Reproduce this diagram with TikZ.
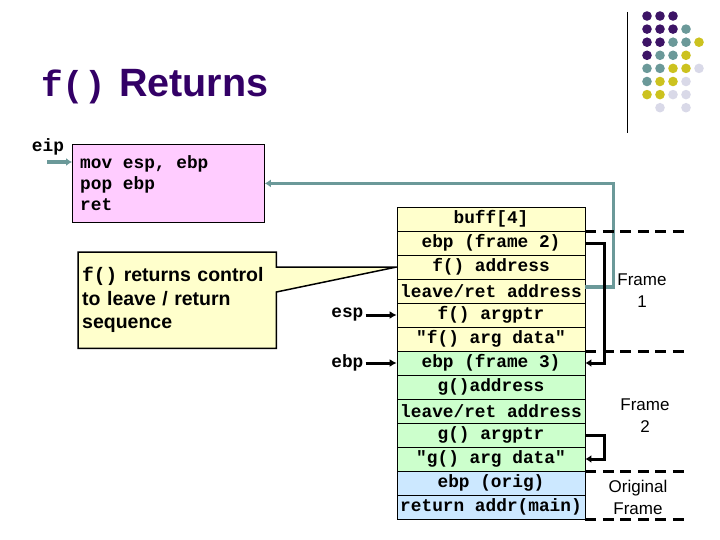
\documentclass[tikz,border=0pt]{standalone}
\usepackage{fontspec}
\setmainfont{Liberation Sans}
\setmonofont{Liberation Mono}
\usetikzlibrary{positioning,arrows.meta,backgrounds}

\definecolor{titlepurple}{HTML}{330066}
\definecolor{dotpurple}{HTML}{3D1466}
\definecolor{dotteal}{HTML}{6B9999}
\definecolor{dotyellow}{HTML}{CCC21F}
\definecolor{dotlav}{HTML}{D9D9E8}
\definecolor{codepink}{HTML}{FFCCFF}
\definecolor{stackyellow}{HTML}{FFFFCC}
\definecolor{stackgreen}{HTML}{CCFFCC}
\definecolor{stackblue}{HTML}{CCE8FF}

\tikzset{
  monofont/.style={font=\fontsize{17.8}{21}\selectfont\ttfamily\bfseries},
  stackrow/.style={draw, line width=0.8pt, minimum width=188pt, minimum height=24pt, inner sep=0pt, monofont},
  reglabel/.style={inner sep=2pt, monofont},
  regarrow/.style={line width=3pt, -{Latex[length=7pt,width=8pt]}},
  tealarrow/.style={draw=dotteal, line width=3.5pt, -{Latex[length=6pt,width=8pt]}},
  linkarrow/.style={line width=3pt, -{Latex[length=6pt,width=8pt]}},
  framedash/.style={line width=3pt, dash pattern=on 11pt off 6.5pt},
  framelabel/.style={align=center, font=\fontsize{17}{22}\selectfont}
}

\begin{document}
\begin{tikzpicture}[x=1pt, y=-1pt]
    \useasboundingbox (0, 0) rectangle (720, 540);

    \draw[line width=1pt] (627, 12) -- (627, 133);

    \foreach \cols [count=\i from 0] in {
        {dotpurple,dotpurple,dotpurple},
        {dotpurple,dotpurple,dotpurple,dotteal},
        {dotpurple,dotpurple,dotteal,dotteal,dotyellow},
        {dotpurple,dotteal,dotteal,dotyellow},
        {dotteal,dotteal,dotyellow,dotyellow,dotlav},
        {dotteal,dotyellow,dotyellow,dotlav},
        {dotyellow,dotyellow,dotlav,dotlav},
        {white,dotlav,white,dotlav}}
        \foreach \c [count=\j from 0] in \cols
            \fill[\c] ({647 + 13*\j}, {16 + 13.1*\i}) circle (4.8);

    \node[anchor=base west, inner sep=0pt, text=titlepurple, font=\fontsize{36}{40}\selectfont\ttfamily\bfseries] (titlef) at (41, 97) {f()};
    \node[anchor=base west, inner sep=0pt, text=titlepurple, font=\fontsize{39.5}{44}\selectfont\bfseries] (titleret) at (119, 97) {Returns};

    \node[anchor=north west, draw, line width=0.8pt, fill=codepink, minimum width=192pt, minimum height=78pt] (code) at (72, 144) {};
    \node[anchor=west, inner sep=0pt, align=left, monofont] (codetext) at ([xshift=8pt]code.west) {mov esp, ebp\\pop ebp\\ret};

    \node[reglabel] (eip) at (48, 147) {eip};
    \coordinate (eiptail) at (47, 162);
    \draw[tealarrow] (eiptail) -- (code.west |- eiptail);

    \foreach \name/\txt/\col [count=\i from 0] in {
        buff/{buff[4]}/stackyellow,
        ebpftwo/{ebp (frame 2)}/stackyellow,
        faddr/{f() address}/stackyellow,
        fret/{leave/ret address}/stackyellow,
        fargp/{f() argptr}/stackyellow,
        fdata/{"f() arg data"}/stackyellow,
        ebpfthree/{ebp (frame 3)}/stackgreen,
        gaddr/{g()address}/stackgreen,
        gret/{leave/ret address}/stackgreen,
        gargp/{g() argptr}/stackgreen,
        gdata/{"g() arg data"}/stackgreen,
        ebporig/{ebp (orig)}/stackblue,
        retmain/{return addr(main)}/stackblue}
        \node[stackrow, fill=\col] (\name) at (491, {219 + 24*\i}) {\txt};

    \node[anchor=north west, minimum width=198pt, minimum height=96pt, text width=190pt, inner xsep=4pt, align=left, font=\fontsize{19.5}{23.5}\selectfont\bfseries] (callout) at (78, 252) {\texttt{f()} returns control\\to leave / return\\sequence};
    \begin{scope}[on background layer]
        \draw[line width=1.5pt, fill=stackyellow] (callout.north west) -- (callout.north east) -- ([yshift=-15pt]callout.north east) -- (faddr.west) -- ([yshift=-40pt]callout.north east) -- (callout.south east) -- (callout.south west) -- cycle;
    \end{scope}

    \node[reglabel, left=31pt of fargp.west] (esp) {esp};
    \draw[regarrow] (esp) -- (fargp.west);

    \node[reglabel, left=31pt of ebpfthree.west] (ebp) {ebp};
    \draw[regarrow] (ebp) -- (ebpfthree.west);

    \draw[tealarrow] ([yshift=4pt]fret.east) -- ++(28, 0) |- (code.east);

    \draw[linkarrow] (ebpftwo.east) -- ++(19, 0) |- (ebpfthree.east);
    \draw[linkarrow] (gargp.east) -- ++(19, 0) |- (gdata.east);

    \draw[framedash] (buff.south east) -- ++(103, 0);
    \draw[framedash] (fdata.south east) -- ++(103, 0);
    \draw[framedash] (gdata.south east) -- ++(103, 0);
    \draw[framedash] (retmain.south east) -- ++(101, 0);

    \node[framelabel] (frameone) at (642, 291) {Frame\\1};
    \node[framelabel] (frametwo) at (645, 416) {Frame\\2};
    \node[framelabel] (origframe) at (638, 497) {Original\\Frame};
\end{tikzpicture}
\end{document}
